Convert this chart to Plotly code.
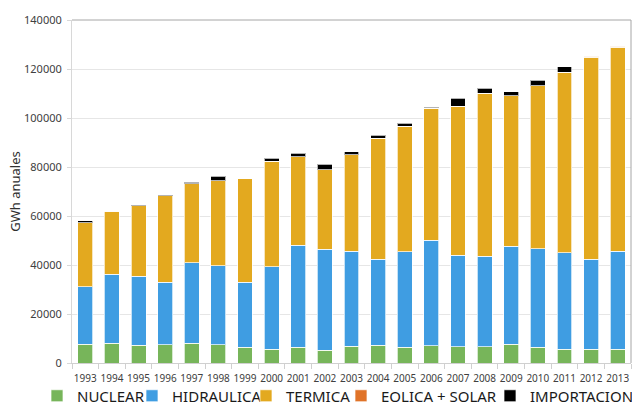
import plotly.graph_objects as go

years = [str(y) for y in range(1993, 2014)]

nuclear = [7750, 8160, 7200, 7470, 8000, 7470, 6530, 5560, 6400, 5300, 6940,
           7200, 6400, 7060, 6650, 6650, 7750, 6530, 5710, 5710, 5550]
hidraulica = [23390, 28010, 28150, 25590, 32820, 32130, 26530, 33740, 41600, 41100, 38620,
              35100, 39030, 42990, 37270, 36850, 40000, 40120, 39310, 36590, 40010]
termica = [26010, 25730, 28850, 35240, 32380, 34800, 42140, 43100, 36200, 32500, 39440,
           49400, 51170, 53850, 60830, 66700, 61250, 66550, 73580, 82600, 83240]
eolica_solar = [0, 0, 0, 0, 0, 0, 0, 0, 0, 0, 0,
                0, 0, 0, 0, 0, 0, 0, 20, 350, 460]
importacion = [900, 100, 100, 200, 600, 1750, 100, 1100, 1350, 2300, 1200,
               1360, 1360, 500, 3260, 1900, 1770, 2300, 2300, 100, 100]

series = [
    ("NUCLEAR", nuclear, "#77B55A"),
    ("HIDRAULICA", hidraulica, "#3F9DE2"),
    ("TERMICA", termica, "#E3A91F"),
    ("EOLICA + SOLAR", eolica_solar, "#E07328"),
    ("IMPORTACION", importacion, "#000000"),
]

legend_names = ["legend", "legend2", "legend3", "legend4", "legend5"]
legend_text_x = [77, 172, 286, 381, 530]  # where each legend label starts, px

fig = go.Figure()
for (name, vals, col), lg in zip(series, legend_names):
    fig.add_trace(go.Bar(
        x=years, y=vals, name=name, legend=lg,
        marker=dict(color=col, line=dict(color="rgba(255,255,255,0.7)", width=1)),
    ))

W, H = 632, 406
legend_font = dict(family="Noto Sans", size=15, color="#1a1a1a")
layout_legends = {}
for lg, tx in zip(legend_names, legend_text_x):
    layout_legends[lg] = dict(
        x=(tx - 40) / W, y=1 - 396 / H, xref="container", yref="container",
        xanchor="left", yanchor="middle", orientation="h",
        font=legend_font, itemwidth=30, bgcolor="rgba(0,0,0,0)",
        tracegroupgap=0, itemclick=False,
    )

fig.update_layout(
    width=W, height=H,
    barmode="stack", bargap=0.44,
    plot_bgcolor="white", paper_bgcolor="white",
    margin=dict(l=72, r=1, t=20, b=43),
    font=dict(family="Noto Sans", color="#404040"),
    showlegend=True,
    **layout_legends,
    xaxis=dict(
        type="category", showgrid=False, automargin=False,
        showline=True, linecolor="#d0d0d0", linewidth=1,
        ticks="outside", tickson="boundaries", ticklen=5, tickcolor="#d0d0d0",
        tickfont=dict(size=10, color="#404040"), tickangle=0,
        ticklabelstandoff=6,
    ),
    yaxis=dict(
        range=[0, 140000], dtick=20000, tickformat="d", automargin=False,
        showgrid=True, gridcolor="#e6e6e6", gridwidth=1,
        showline=True, linecolor="#d8d8d8", linewidth=1,
        ticks="outside", ticklen=4, tickcolor="#d8d8d8",
        tickfont=dict(size=11, color="#404040"), ticklabelstandoff=3,
        zeroline=False,
        title=dict(text="GWh anuales", font=dict(size=13, color="#303030"), standoff=0),
    ),
    shapes=[
        dict(type="line", xref="paper", yref="paper", x0=0, x1=1, y0=1, y1=1,
             line=dict(color="#a6a6a6", width=1)),
        dict(type="line", xref="paper", yref="paper", x0=1, x1=1, y0=0, y1=1,
             line=dict(color="#a6a6a6", width=1)),
    ],
)

fig.write_html("out.html", config={"displayModeBar": False},
               post_script="document.body.style.margin='0';")
